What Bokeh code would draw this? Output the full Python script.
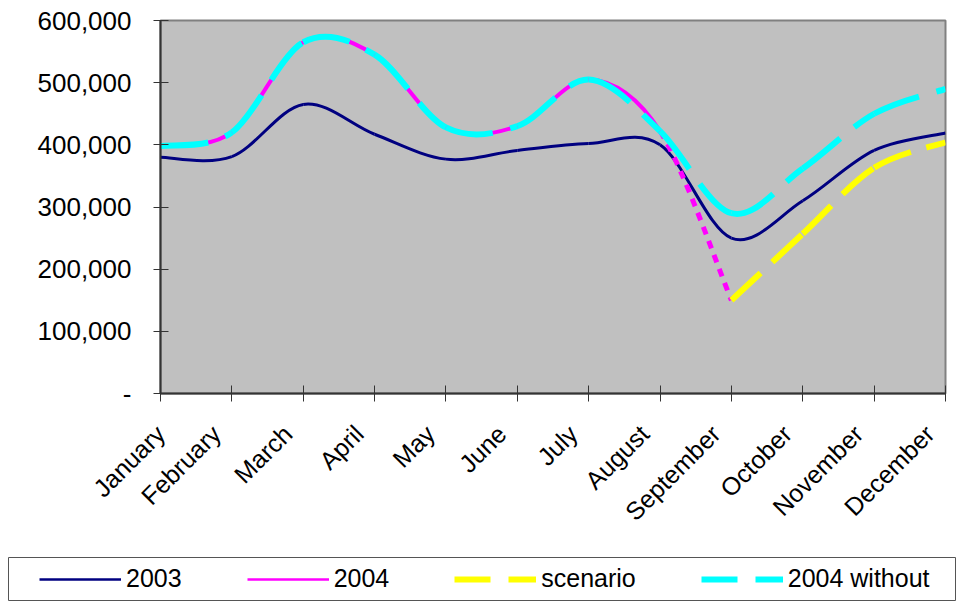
import math
from bokeh.plotting import figure
from bokeh.models import (FixedTicker, Range1d, Legend, LegendItem, ColumnDataSource,
                          LinearAxis, CustomLabelingPolicy)
from bokeh.layouts import column
from bokeh.embed import file_html
from bokeh.resources import INLINE

# ---------------- data ----------------
months = ["January", "February", "March", "April", "May", "June", "July",
          "August", "September", "October", "November", "December"]
v2003 = [380000, 381000, 465000, 417000, 377000, 391000, 402000, 400000,
         250000, 310000, 391000, 419000]
v2004 = [398000, 420000, 565000, 545000, 428000, 430000, 505000, 422000, 150000]
scenario_months = ["September", "October", "November", "December"]
scenario = [150000, 257000, 363000, 404000]
without2004 = [398000, 420000, 565000, 545000, 428000, 430000, 505000, 422000,
               290000, 362000, 450000, 490000]
y_ticks = [0, 100000, 200000, 300000, 400000, 500000, 600000]
y_labels = ["-", "100,000", "200,000", "300,000", "400,000", "500,000", "600,000"]

FONT = "Liberation Sans"
NAN = float("nan")


def smooth_segments(xs, ys, t=1.0 / 6.0):
    """Bezier segments through the data points (Excel-like smoothed line)."""
    n = len(xs)
    d = dict(x0=[], y0=[], x1=[], y1=[], cx0=[], cy0=[], cx1=[], cy1=[])
    for i in range(n - 1):
        a = max(i - 1, 0)
        b = min(i + 2, n - 1)
        d["x0"].append(xs[i]); d["y0"].append(ys[i])
        d["x1"].append(xs[i + 1]); d["y1"].append(ys[i + 1])
        d["cx0"].append(xs[i] + (xs[i + 1] - xs[a]) * t)
        d["cy0"].append(ys[i] + (ys[i + 1] - ys[a]) * t)
        d["cx1"].append(xs[i + 1] - (xs[b] - xs[i]) * t)
        d["cy1"].append(ys[i + 1] - (ys[b] - ys[i]) * t)
    return d


def idx(names):
    return [months.index(m) for m in names]


x_all = list(range(len(months)))
src2003 = ColumnDataSource(smooth_segments(x_all, v2003))
d2004 = smooth_segments(x_all[:len(v2004)], v2004)
src2004_solid = ColumnDataSource({k: v[:-1] for k, v in d2004.items()})
src2004_dot = ColumnDataSource({k: v[-1:] for k, v in d2004.items()})
srcscen = ColumnDataSource(smooth_segments(idx(scenario_months), scenario))
srcwo = ColumnDataSource(smooth_segments(x_all, without2004))

# ---------------- main chart ----------------
x0, x1 = 0, len(months) - 1
p = figure(width=956, height=557, output_backend="svg", toolbar_location=None,
           x_range=Range1d(x0, x1), y_range=Range1d(0, 600000),
           min_border_left=160, min_border_right=11, min_border_top=20,
           min_border_bottom=164)
p.background_fill_color = "#C0C0C0"
p.border_fill_color = "white"
p.outline_line_color = "#808080"
p.outline_line_width = 2
p.grid.visible = False

bz = dict(x0="x0", y0="y0", x1="x1", y1="y1", cx0="cx0", cy0="cy0", cx1="cx1", cy1="cy1")
p.bezier(source=src2003, line_color="#000080", line_width=3, **bz)
p.bezier(source=src2004_solid, line_color="#FF00FF", line_width=4, **bz)
p.bezier(source=src2004_dot, line_color="#FF00FF", line_width=5, line_dash="8 7", **bz)
p.bezier(source=srcscen, line_color="#FFFF00", line_width=6, line_dash="40 16", **bz)
p.bezier(source=srcwo, line_color="#00FFFF", line_width=6, line_dash="48 18", **bz)

# main x axis: ticks only
p.xaxis.ticker = FixedTicker(ticks=x_all)
p.xaxis.major_label_policy = CustomLabelingPolicy(code="")
p.xaxis.major_label_standoff = 0
p.xaxis.major_tick_in = 8
p.xaxis.major_tick_out = 8
p.xaxis.minor_tick_line_color = None

# label axis: same scale shifted ~15 px left, so the rotated names hang to the
# lower left of their ticks as in Excel (January, which would fall left of the
# frame, is kept at the frame's edge)
shift = 7.0 / 32.0
p.extra_x_ranges = {"labels": Range1d(x0 + shift, x1 + shift)}
lab_ticks = [x0 + shift] + x_all[1:]
lab_axis = LinearAxis(x_range_name="labels", ticker=FixedTicker(ticks=lab_ticks),
                      major_label_overrides={t: m for t, m in zip(lab_ticks, months)},
                      major_label_orientation=math.pi / 4,
                      major_label_text_font=FONT, major_label_text_font_size="25px",
                      major_label_text_color="black", major_label_standoff=17,
                      axis_line_color=None, major_tick_line_color=None,
                      minor_tick_line_color=None, major_tick_in=0, major_tick_out=0)
p.add_layout(lab_axis, "below")

p.yaxis.ticker = FixedTicker(ticks=y_ticks)
p.yaxis.major_label_overrides = {t: l for t, l in zip(y_ticks, y_labels)}
p.yaxis.major_label_text_font = FONT
p.yaxis.major_label_text_font_size = "26px"
p.yaxis.major_label_text_color = "black"
p.yaxis.major_label_standoff = 22
p.yaxis.major_tick_in = 8
p.yaxis.major_tick_out = 7
p.yaxis.minor_tick_line_color = None

for ax in (p.xaxis[0], p.yaxis[0]):
    ax.axis_line_color = "#333333"
    ax.axis_line_width = 2
    ax.major_tick_line_color = "#333333"
    ax.major_tick_line_width = 1

# ---------------- legend box ----------------
p2 = figure(width=956, height=44, output_backend="svg", toolbar_location=None,
            x_range=Range1d(0, 1), y_range=Range1d(0, 1),
            min_border_left=8, min_border_right=0, min_border_top=0,
            min_border_bottom=0)
p2.axis.visible = False
p2.grid.visible = False
p2.outline_line_color = "#555555"
p2.outline_line_width = 1
p2.background_fill_color = "white"

for fig in (p, p2):
    if "frame_align" in fig.properties():
        fig.frame_align = False

r1 = p2.line([NAN], [NAN], line_color="#000080", line_width=2.5)
r2 = p2.line([NAN], [NAN], line_color="#FF00FF", line_width=2.5)
r3 = p2.line([NAN], [NAN], line_color="#FFFF00", line_width=6, line_dash="36 18")
r4 = p2.line([NAN], [NAN], line_color="#00FFFF", line_width=6, line_dash="36 18")

legend = Legend(items=[LegendItem(label="2003", renderers=[r1]),
                       LegendItem(label="2004", renderers=[r2]),
                       LegendItem(label="scenario", renderers=[r3]),
                       LegendItem(label="2004 without", renderers=[r4])],
                orientation="horizontal", location=(31, 8), padding=0, margin=0,
                spacing=65, label_standoff=5, glyph_width=82, glyph_height=20,
                border_line_alpha=0, background_fill_alpha=0,
                label_text_font=FONT, label_text_font_size="25px",
                label_text_color="black")
p2.add_layout(legend)

layout = column(p, p2, spacing=0)
open("out.html", "w").write(file_html(layout, INLINE))
